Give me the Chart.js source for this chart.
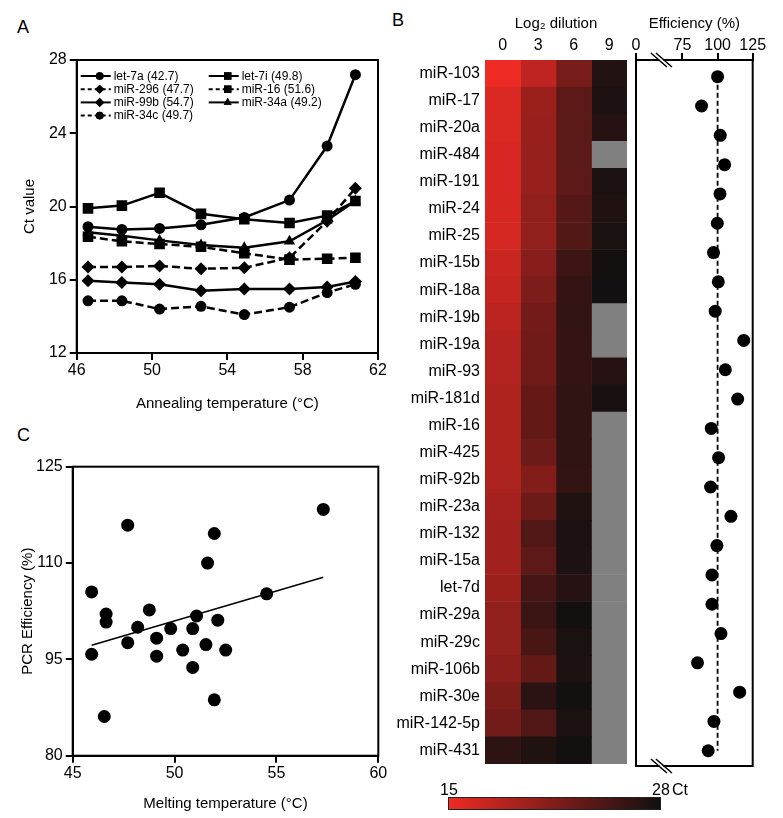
<!DOCTYPE html>
<html>
<head>
<meta charset="utf-8">
<script src="https://cdn.jsdelivr.net/npm/chart.js@4.4.1/dist/chart.umd.min.js"></script>
<style>
  body { margin: 0; background: #fff; }
  #page { position: relative; width: 783px; height: 818px; overflow: hidden; font-family: "Liberation Sans", Arial, sans-serif; color: #000; }
  canvas { position: absolute; }
  .txt { position: absolute; white-space: nowrap; line-height: 1; }
  .panel { font-size: 18px; }
  #cbar { position: absolute; left: 448px; top: 797px; width: 213px; height: 13px; border: 1px solid #222; box-sizing: border-box; }
</style>
</head>
<body>
<div id="page">
  <div class="txt panel" style="left:17px;top:18px;">A</div>
  <div class="txt panel" style="left:392px;top:11px;">B</div>
  <div class="txt panel" style="left:17px;top:426px;">C</div>

  <canvas id="chartA" width="390" height="420" style="left:0;top:0;"></canvas>
  <canvas id="chartC" width="390" height="398" style="left:0;top:420px;"></canvas>
  <canvas id="chartHeat" width="240" height="780" style="left:390px;top:0;"></canvas>
  <canvas id="chartEff" width="163" height="818" style="left:620px;top:0;"></canvas>

  <div id="cbar"></div>
  <div class="txt" style="left:440px;top:782px;font-size:16px;">15</div>
  <div class="txt" style="left:652px;top:782px;font-size:16px;">28</div>
  <div class="txt" style="left:672px;top:782px;font-size:16px;">Ct</div>
</div>

<script>
// ---------------------------------------------
// Panel A — Ct vs annealing temperature
// ---------------------------------------------
const annealTemps = [46.6, 48.4, 50.4, 52.6, 54.9, 57.3, 59.3, 60.8];
const ctLet7a  = [18.9, 18.75, 18.8, 19.0, 19.4, 20.35, 23.3, 27.2];
const ctLet7i  = [19.9, 20.05, 20.75, 19.6, 19.3, 19.1, 19.5, 20.3];
const ctMiR296 = [16.7, 16.7, 16.75, 16.6, 16.65, 17.2, 19.2, 21.0];
const ctMiR16  = [18.35, 18.1, 17.95, 17.8, 17.45, 17.1, 17.15, 17.2];
const ctMiR99b = [15.95, 15.85, 15.75, 15.4, 15.5, 15.5, 15.6, 15.9];
const ctMiR34a = [18.6, 18.4, 18.15, 17.9, 17.75, 18.1, 19.25, 20.3];
const ctMiR34c = [14.85, 14.85, 14.4, 14.55, 14.1, 14.5, 15.3, 15.75];

// ---------------------------------------------
// Panel B — heatmap (Ct per log2 dilution) + efficiency
// ---------------------------------------------
const mirNames = ['miR-103', 'miR-17', 'miR-20a', 'miR-484', 'miR-191', 'miR-24', 'miR-25', 'miR-15b',
  'miR-18a', 'miR-19b', 'miR-19a', 'miR-93', 'miR-181d', 'miR-16', 'miR-425', 'miR-92b', 'miR-23a',
  'miR-132', 'miR-15a', 'let-7d', 'miR-29a', 'miR-29c', 'miR-106b', 'miR-30e', 'miR-142-5p', 'miR-431'];
const dilutions = ['0', '3', '6', '9'];
const ctDil0 = [15.0, 16.1, 16.2, 16.3, 16.3, 16.4, 16.5, 17.2, 17.4, 18.1, 18.4, 18.5, 18.7,
  18.7, 18.7, 18.9, 19.3, 19.6, 19.6, 19.9, 20.5, 20.5, 20.8, 21.7, 22.3, 26.4];
const ctDil3 = [17.8, 19.9, 20.1, 20.2, 20.2, 20.5, 20.5, 21.1, 21.7, 22.3, 22.4, 22.4, 23.2,
  23.2, 22.6, 21.4, 22.7, 24.3, 23.6, 25.0, 25.6, 24.8, 23.2, 26.6, 24.3, 27.2];
const ctDil6 = [22.0, 23.6, 23.7, 23.7, 23.6, 24.1, 24.2, 25.5, 26.0, 26.1, 26.0, 26.0, 26.2,
  26.2, 26.2, 26.1, 27.2, 27.4, 27.3, 26.8, 27.8, 27.5, 27.3, 27.8, 27.4, 27.8];
const ctDil9 = [27.0, 27.3, 26.8, null, 27.4, 27.2, 27.5, 27.8, 28.0, null, null, 26.8, 27.6,
  null, null, null, null, null, null, null, null, null, null, null, null, null];
const ctColumns = [ctDil0, ctDil3, ctDil6, ctDil9];

const CT_MIN = 15, CT_MAX = 28;

const effB = [100, 88.6, 101.9, 105, 101.7, 99.8, 97.1, 100.5, 98.3, 118.6, 105.5, 114.3,
  95.5, 100.7, 95.0, 109.5, 99.5, 96.0, 96.0, 102.4, 85.7, 115.7, 97.4, 93.3];
const effTickValues = [41.9, 75, 100, 125];   // first tick sits at the axis break, labelled 0
const effTickLabels = ['0', '75', '100', '125'];
const EFF_REF = 100;
const EFF_BREAK = 60;

// ---------------------------------------------
// Panel C — efficiency vs melting temperature
// ---------------------------------------------
const meltTemp = [45.93, 45.93, 46.55, 46.64, 46.64, 47.7, 47.7, 48.19, 48.76, 49.12, 49.12, 49.81,
  50.4, 50.89, 50.89, 51.08, 51.54, 51.62, 51.95, 51.95, 52.12, 52.51, 54.52, 57.3];
const effC = [105.5, 95.8, 86.1, 102.05, 100.8, 115.9, 97.6, 100.0, 102.7, 98.3, 95.5, 99.8,
  96.45, 93.75, 99.8, 101.75, 97.3, 110.0, 114.6, 88.7, 101.1, 96.45, 105.2, 118.35];
const fitX = [45.93, 57.3];
const fitY = [97.2, 107.8];

// ─────────────────────────────────────────
Chart.defaults.font.family = '"Liberation Sans", Arial, sans-serif';
Chart.defaults.color = '#000';
Chart.defaults.animation = false;
Chart.defaults.plugins.legend.display = false;
Chart.defaults.plugins.tooltip.enabled = false;

function ctColor(ct) {
  if (ct == null) return '#808080';
  const t = Math.min(1, Math.max(0, (ct - CT_MIN) / (CT_MAX - CT_MIN)));
  const lo = [238, 42, 36], hi = [18, 16, 16];
  const c = lo.map((v, i) => Math.round(v + (hi[i] - v) * t));
  return `rgb(${c[0]},${c[1]},${c[2]})`;
}
document.getElementById('cbar').style.background =
  `linear-gradient(to right, ${ctColor(CT_MIN)}, ${ctColor(CT_MAX)})`;

// box around the plot area
const framePlugin = {
  id: 'frame',
  beforeDatasetsDraw(chart) {
    const { ctx, chartArea: a } = chart;
    ctx.save();
    ctx.strokeStyle = '#000';
    ctx.lineWidth = 2;
    ctx.strokeRect(a.left, a.top, a.right - a.left, a.bottom - a.top);
    ctx.restore();
  }
};

// legend with line + marker, inside panel A
const lineLegendPlugin = {
  id: 'lineLegend',
  afterDraw(chart) {
    const { ctx, chartArea: a } = chart;
    ctx.save();
    ctx.font = '12px "Liberation Sans", Arial, sans-serif';
    ctx.textBaseline = 'middle';
    chart.data.datasets.forEach((ds, i) => {
      const x0 = a.left + 4 + (i % 2) * 128;
      const y = a.top + 16 + Math.floor(i / 2) * 13.2;
      ctx.strokeStyle = '#000';
      ctx.lineWidth = 2;
      ctx.setLineDash(ds.borderDash ? [4, 3] : []);
      ctx.beginPath();
      ctx.moveTo(x0, y);
      ctx.lineTo(x0 + 30, y);
      ctx.stroke();
      ctx.setLineDash([]);
      ctx.fillStyle = '#000';
      Chart.helpers.drawPoint(ctx, { pointStyle: ds.pointStyle, radius: ds.pointRadius * 0.7, rotation: 0, borderWidth: 0 }, x0 + 19, y);
      ctx.fill();
      ctx.fillText(ds.label, x0 + 33, y + 0.5);
    });
    ctx.restore();
  }
};

function axisStyle(extra) {
  return Object.assign({
    grid: { drawOnChartArea: false, tickLength: 7, color: '#000', lineWidth: 2 },
    border: { color: '#000', width: 2 }
  }, extra);
}

// ─────────────────────────────────────────
// PANEL A
// ─────────────────────────────────────────
const seriesA = [
  { label: 'let-7a (42.7)',  data: ctLet7a,  style: 'circle',   dash: false, r: 5.5 },
  { label: 'let-7i (49.8)',  data: ctLet7i,  style: 'rect',     dash: false, r: 7.5 },
  { label: 'miR-296 (47.7)', data: ctMiR296, style: 'rectRot',  dash: true,  r: 6.5 },
  { label: 'miR-16 (51.6)',  data: ctMiR16,  style: 'rect',     dash: true,  r: 7.5 },
  { label: 'miR-99b (54.7)', data: ctMiR99b, style: 'rectRot',  dash: false, r: 6.5 },
  { label: 'miR-34a (49.2)', data: ctMiR34a, style: 'triangle', dash: false, r: 6.5 },
  { label: 'miR-34c (49.7)', data: ctMiR34c, style: 'circle',   dash: true,  r: 5.5 }
];

new Chart(document.getElementById('chartA'), {
  type: 'line',
  data: {
    datasets: seriesA.map(s => ({
      label: s.label,
      data: s.data.map((v, i) => ({ x: annealTemps[i], y: v })),
      borderColor: '#000',
      backgroundColor: '#000',
      borderWidth: 2.5,
      borderDash: s.dash ? [8, 4] : undefined,
      pointStyle: s.style,
      pointRadius: s.r,
      pointBorderWidth: 0,
      tension: 0
    }))
  },
  options: {
    responsive: false,
    layout: { padding: { top: 60, right: 12, left: 0, bottom: 0 } },
    scales: {
      x: axisStyle({
        type: 'linear', min: 46, max: 62,
        afterFit: s => { s.height = 67; },
        ticks: { stepSize: 4, font: { size: 16 }, padding: 1 },
        title: { display: true, text: 'Annealing temperature (°C)', font: { size: 15 }, padding: { top: 0, bottom: 7 } }
      }),
      y: axisStyle({
        min: 12, max: 28,
        afterFit: s => { s.width = 76.7; },
        ticks: { stepSize: 4, font: { size: 16 }, padding: 3 },
        title: { display: true, text: 'Ct value', font: { size: 15 }, padding: { top: 21, bottom: 0 } }
      })
    }
  },
  plugins: [framePlugin, lineLegendPlugin]
});

// ─────────────────────────────────────────
// PANEL C
// ─────────────────────────────────────────
new Chart(document.getElementById('chartC'), {
  type: 'scatter',
  data: {
    datasets: [
      {
        data: meltTemp.map((t, i) => ({ x: t, y: effC[i] })),
        backgroundColor: '#000', pointRadius: 6.5, pointBorderWidth: 0
      },
      {
        data: fitX.map((t, i) => ({ x: t, y: fitY[i] })),
        showLine: true, borderColor: '#000', borderWidth: 1.5, pointRadius: 0
      }
    ]
  },
  options: {
    responsive: false,
    layout: { padding: { top: 46.7, right: 11.7, left: 0, bottom: 0 } },
    scales: {
      x: axisStyle({
        type: 'linear', min: 45, max: 60,
        afterFit: s => { s.height = 62.3; },
        ticks: { stepSize: 5, font: { size: 16 }, padding: 1 },
        title: { display: true, text: 'Melting temperature (°C)', font: { size: 15 }, padding: { top: 0, bottom: 5 } }
      }),
      y: axisStyle({
        min: 80, max: 125,
        afterFit: s => { s.width = 72.7; },
        ticks: { stepSize: 15, font: { size: 16 }, padding: 3 },
        title: { display: true, text: 'PCR Efficiency (%)', font: { size: 15 }, padding: { top: 19, bottom: 0 } }
      })
    }
  },
  plugins: [framePlugin]
});

// ─────────────────────────────────────────
// PANEL B — HEATMAP (floating bars, one dataset per dilution)
// ─────────────────────────────────────────
new Chart(document.getElementById('chartHeat'), {
  type: 'bar',
  data: {
    labels: mirNames,
    datasets: ctColumns.map((col, c) => ({
      data: col.map(() => [c - 0.5, c + 0.5]),
      backgroundColor: col.map(ctColor),
      borderWidth: 0,
      barPercentage: 1,
      categoryPercentage: 1,
      grouped: false
    }))
  },
  options: {
    responsive: false,
    indexAxis: 'y',
    layout: { padding: { top: 0, right: 3, left: 0, bottom: 16 } },
    scales: {
      x: {
        type: 'linear', position: 'top', min: -0.5, max: 3.5,
        afterBuildTicks: s => { s.ticks = dilutions.map((d, i) => ({ value: i })); },
        afterFit: s => { s.height = 60; },
        ticks: { callback: (v, i) => dilutions[i], font: { size: 16 }, padding: 5 },
        grid: { display: false, drawTicks: false },
        border: { display: false },
        title: { display: true, text: 'Log₂ dilution', font: { size: 15 }, padding: { top: 15, bottom: 0 } }
      },
      y: {
        afterFit: s => { s.width = 95; },
        ticks: { font: { size: 16 }, padding: 5, autoSkip: false },
        grid: { display: false, drawTicks: false },
        border: { display: false }
      }
    }
  }
});

// ─────────────────────────────────────────
// PANEL B — EFFICIENCY STRIP (broken axis)
// ─────────────────────────────────────────
const effFramePlugin = {
  id: 'effFrame',
  afterDraw(chart) {
    const { ctx, chartArea: a } = chart;
    const xb = chart.scales.x.getPixelForValue(EFF_BREAK);
    ctx.save();
    ctx.strokeStyle = '#000';
    ctx.lineWidth = 2;
    ctx.beginPath();
    ctx.moveTo(a.left, a.top);
    ctx.lineTo(a.left, a.bottom);
    ctx.lineTo(a.right, a.bottom);
    ctx.lineTo(a.right, a.top);
    ctx.stroke();
    [a.top, a.bottom].forEach(y => {
      ctx.fillStyle = '#fff';
      ctx.fillRect(xb - 2, y - 2, 4, 4);
      ctx.lineWidth = 1.6;
      [-2.5, 2.5].forEach(d => {
        ctx.beginPath();
        ctx.moveTo(xb + d - 8, y - 7);
        ctx.lineTo(xb + d + 8, y + 7);
        ctx.stroke();
      });
    });
    ctx.restore();
  }
};

new Chart(document.getElementById('chartEff'), {
  type: 'scatter',
  data: {
    datasets: [
      {
        data: [{ x: EFF_REF, y: 0 }, { x: EFF_REF, y: effB.length - 1 }],
        showLine: true, borderColor: '#000', borderWidth: 1.8, borderDash: [5, 3], pointRadius: 0
      },
      {
        data: effB.map((v, i) => ({ x: v, y: i })),
        backgroundColor: '#000', pointRadius: 6.5, pointBorderWidth: 0
      }
    ]
  },
  options: {
    responsive: false,
    layout: { padding: { top: 0, right: 30.3, left: 16, bottom: 52 } },
    scales: {
      x: {
        type: 'linear', position: 'top', min: 41.9, max: 125,
        afterBuildTicks: s => { s.ticks = effTickValues.map(v => ({ value: v })); },
        afterFit: s => { s.height = 60; },
        ticks: { callback: (v, i) => effTickLabels[i], font: { size: 16 }, padding: -2 },
        grid: { drawOnChartArea: false, tickLength: 7, color: '#000', lineWidth: 2 },
        border: { color: '#000', width: 2 },
        title: { display: true, text: 'Efficiency (%)', font: { size: 15 }, padding: { top: 15, bottom: 0 } }
      },
      y: { type: 'linear', reverse: true, min: -0.57, max: 23.52, display: false }
    }
  },
  plugins: [effFramePlugin]
});
</script>
</body>
</html>
